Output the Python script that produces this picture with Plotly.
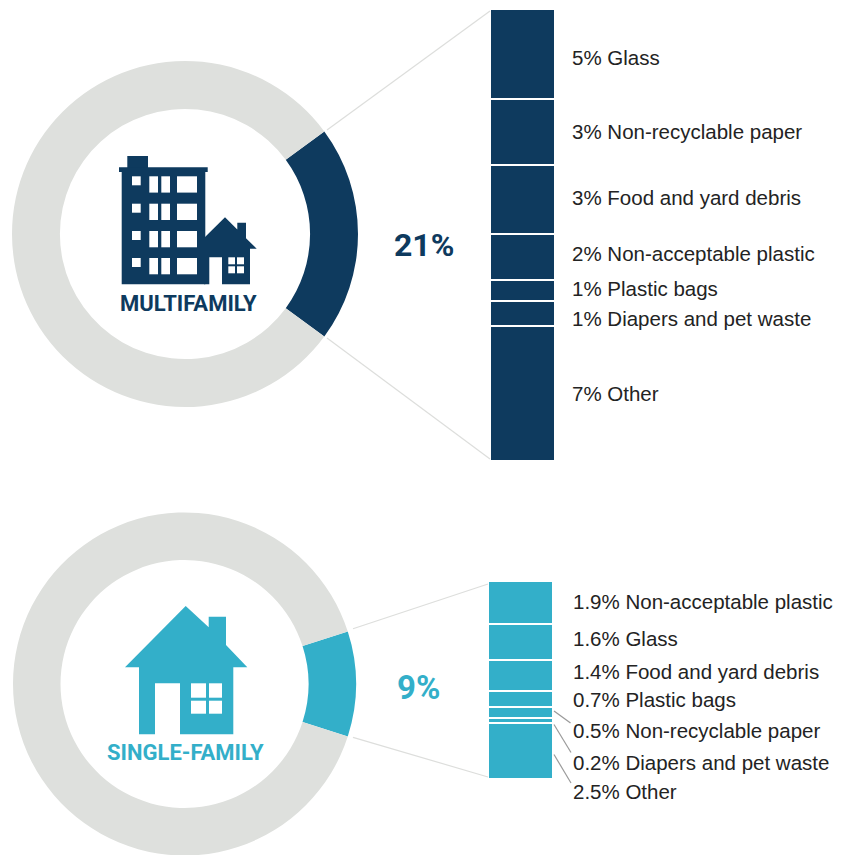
import plotly.graph_objects as go

W, H = 847, 858

# ---- data ----
multi_share = [20.2, 79.8]
single_share = [9.9, 90.1]
multi_labels = ["5% Glass", "3% Non-recyclable paper", "3% Food and yard debris",
                "2% Non-acceptable plastic", "1% Plastic bags",
                "1% Diapers and pet waste", "7% Other"]
multi_values = [4.2, 3.05, 3.2, 2.13, 1.0, 1.14, 6.3]
single_labels = ["1.9% Non-acceptable plastic", "1.6% Glass", "1.4% Food and yard debris",
                 "0.7% Plastic bags", "0.5% Non-recyclable paper",
                 "0.2% Diapers and pet waste", "2.5% Other"]
single_values = [1.9, 1.6, 1.4, 0.7, 0.5, 0.2, 2.5]

NAVY, TEAL, GREY = "#0E3A5E", "#33AFC9", "#DEE0DD"
TXT = "#232323"
FONT = "Liberation Sans"
HEAD = "Roboto"

def px_x(a, b):
    return [a / W, b / W]

def px_y(top, bottom):
    return [1 - bottom / H, 1 - top / H]

fig = go.Figure()

def donut(share, col, cx, cy, r, hole):
    fig.add_trace(go.Pie(
        values=share, sort=False, direction="clockwise",
        rotation=90 - share[0] * 3.6 / 2, hole=hole,
        marker=dict(colors=[col, GREY], line=dict(width=0)),
        textinfo="none", hoverinfo="skip", showlegend=False,
        domain=dict(x=px_x(cx - r, cx + r), y=px_y(cy - r, cy + r)),
    ))

donut(multi_share, NAVY, 185, 234, 173, 0.723)
donut(single_share, TEAL, 184.5, 684, 171.5, 0.723)

def column(vals, col, xa, ya):
    for v in vals:
        fig.add_trace(go.Bar(
            x=["c"], y=[v], marker=dict(color=col, line=dict(color="white", width=2)),
            width=1, xaxis=xa, yaxis=ya, showlegend=False, hoverinfo="skip",
        ))

column(multi_values, NAVY, "x2", "y2")
column(single_values, TEAL, "x3", "y3")

hidden = dict(visible=False, showgrid=False, zeroline=False)
fig.update_layout(
    width=W, height=H, margin=dict(l=0, r=0, t=0, b=0), autosize=False,
    paper_bgcolor="white", plot_bgcolor="rgba(0,0,0,0)", barmode="stack",
    xaxis=dict(domain=[0, 1], range=[0, W], **hidden),
    yaxis=dict(domain=[0, 1], range=[H, 0], **hidden),
    xaxis2=dict(domain=px_x(490, 555), anchor="y2", **hidden),
    yaxis2=dict(domain=px_y(9, 461), range=[sum(multi_values), 0], anchor="x2", **hidden),
    xaxis3=dict(domain=px_x(488, 553), anchor="y3", **hidden),
    yaxis3=dict(domain=px_y(581, 779), range=[sum(single_values), 0], anchor="x3", **hidden),
)

# anchor trace for the overlay axes
fig.add_trace(go.Scatter(x=[0], y=[0], mode="markers", marker=dict(opacity=0),
                         showlegend=False, hoverinfo="skip", xaxis="x", yaxis="y"))

shapes = []
def line(x0, y0, x1, y1, col, w=1):
    shapes.append(dict(type="line", xref="x", yref="y", x0=x0, y0=y0, x1=x1, y1=y1,
                       line=dict(color=col, width=w), layer="above"))
def rect(x0, y0, x1, y1, col="white"):
    shapes.append(dict(type="rect", xref="x", yref="y", x0=x0, y0=y0, x1=x1, y1=y1,
                       fillcolor=col, line=dict(width=0), layer="above"))
def poly(pts, col):
    d = "M" + " L".join(f"{a},{b}" for a, b in pts) + " Z"
    shapes.append(dict(type="path", xref="x", yref="y", path=d, fillcolor=col,
                       line=dict(width=0), layer="above"))

# connectors
CONN = "#DDDEDC"
line(327, 130, 490, 11, CONN, 1.2)
line(327, 338, 490, 459, CONN, 1.2)
line(353, 628.7, 488, 584, CONN, 1.2)
line(353, 737.3, 488, 777, CONN, 1.2)
LEAD = "#9A9A9A"
line(554, 711, 570.5, 723, LEAD, 1.2)
line(554, 724.5, 571, 752.5, LEAD, 1.2)
line(554, 754.5, 571, 783, LEAD, 1.2)

# building icon
rect(127.3, 156, 148, 168, NAVY)
rect(119, 167.3, 207.7, 172, NAVY)
rect(121.7, 172, 205.3, 284.3, NAVY)
poly([(204, 238), (225, 217.3), (237.3, 229.5), (237.3, 222.7), (246, 222.7),
      (246, 238.3), (256.7, 248.7), (250, 248.7), (250, 284.3), (222, 284.3),
      (222, 257.3), (209.3, 257.3), (209.3, 284.3), (204, 284.3)], NAVY)
for top in (176.3, 203.7, 231, 258):
    rect(132, top, 140.7, top + 9)
    rect(149.3, top, 158, top + 16.3)
    rect(161.3, top, 170, top + 16.3)
    rect(177, top, 197, top + 16.3)
for xa, xb in ((228.3, 235), (237, 244)):
    for ya, yb in ((257.3, 264.3), (266.3, 273.3)):
        rect(xa, ya, xb, yb)

# house icon
poly([(185.7, 606), (208.7, 627.3), (208.7, 616.7), (226, 616.7), (226, 645),
      (247.3, 667.3), (233.3, 667.3), (233.3, 734.3), (180, 734.3), (180, 683.3),
      (155, 683.3), (155, 734.3), (139, 734.3), (139, 667.3), (125, 667.3)], TEAL)
for xa, xb in ((191, 206), (209, 222)):
    for ya, yb in ((683.3, 697.7), (700.7, 713.7)):
        rect(xa, ya, xb, yb)

fig.update_layout(shapes=shapes)

def note(x, y, text, size, col, anchor="left", fam=FONT, weight=400):
    fig.add_annotation(x=x, y=y, xref="x", yref="y", text=text, showarrow=False,
                       xanchor=anchor, yanchor="middle", align=anchor,
                       font=dict(family=fam, size=size, color=col, weight=weight))

for t, y in zip(multi_labels, [57, 131, 197, 253, 288, 318, 393]):
    note(570, y, t, 20.5, TXT)
for t, y in zip(single_labels, [601, 638, 671, 699, 730, 762, 791]):
    note(571, y, t, 20.5, TXT)

note(424, 245, "21%", 32, NAVY, "center", HEAD, 700)
note(418, 687, "9%", 33, TEAL, "center", HEAD, 700)
note(188, 303.5, "MULTIFAMILY", 22, NAVY, "center", HEAD, 700)
note(185, 752.5, "SINGLE-FAMILY", 22, TEAL, "center", HEAD, 700)

fig.write_html("out.html", config=dict(displayModeBar=False),
               post_script="document.documentElement.style.overflow='hidden';document.body.style.overflow='hidden';document.body.style.margin='0';")
